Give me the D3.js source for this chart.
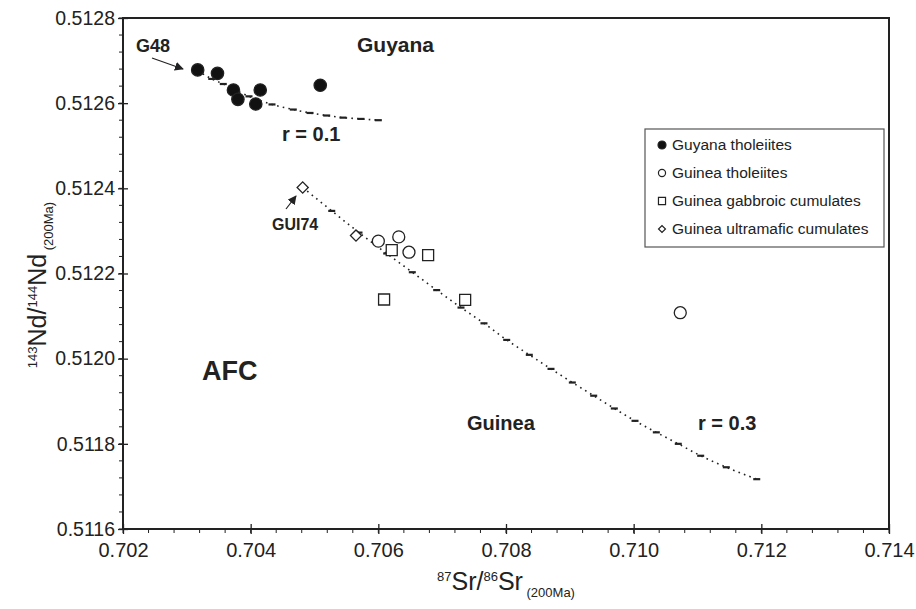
<!DOCTYPE html>
<html>
<head>
<meta charset="utf-8">
<script src="https://cdn.jsdelivr.net/npm/d3@7/dist/d3.min.js"></script>
<style>
  html, body { margin: 0; padding: 0; background: #fff; }
  svg { display: block; font-family: "Liberation Sans", Arial, sans-serif; }
</style>
</head>
<body>
<svg id="chart" width="916" height="609"></svg>
<script>
// Sample groups: 87Sr/86Sr and 143Nd/144Nd at 200 Ma
const guyanaSr = [0.70317, 0.70348, 0.70373, 0.70380, 0.70415, 0.70408, 0.70509];
const guyanaNd = [0.512678, 0.512670, 0.512631, 0.512609, 0.512631, 0.512598, 0.512642];

const guineaThSr = [0.70600, 0.70632, 0.70648, 0.71073];
const guineaThNd = [0.512276, 0.512286, 0.512250, 0.512108];

const gabbroSr = [0.70621, 0.70678, 0.70609, 0.70736];
const gabbroNd = [0.512255, 0.512243, 0.512139, 0.512138];

const ultramaficSr = [0.704815, 0.70565];
const ultramaficNd = [0.512402, 0.512289];

// AFC model steps, r = 0.1 (from G48)
const afcGuyanaSr = [0.703170, 0.703390, 0.703571, 0.703770, 0.703974, 0.704334, 0.704668, 0.704930, 0.705191, 0.705447, 0.705728, 0.706000];
const afcGuyanaNd = [0.512676, 0.512657, 0.512645, 0.512630, 0.512616, 0.512597, 0.512585, 0.512577, 0.512571, 0.512566, 0.512563, 0.512560];

// AFC model steps, r = 0.3 (from GUI74)
const afcGuineaSr = [0.704815, 0.705270, 0.705697, 0.706131, 0.706532, 0.706914, 0.707295, 0.707655, 0.708011, 0.708365, 0.708705, 0.709039, 0.709374, 0.709697, 0.710021, 0.710355, 0.710699, 0.711050, 0.711451, 0.711928];
const afcGuineaNd = [0.512402, 0.512347, 0.512296, 0.512247, 0.512203, 0.512161, 0.512120, 0.512083, 0.512044, 0.512009, 0.511976, 0.511944, 0.511913, 0.511883, 0.511854, 0.511827, 0.511800, 0.511772, 0.511745, 0.511717];

const xTicks = [0.702, 0.704, 0.706, 0.708, 0.710, 0.712, 0.714];
const yTicks = [0.5116, 0.5118, 0.5120, 0.5122, 0.5124, 0.5126, 0.5128];

const legendLabels = ["Guyana tholeiites", "Guinea tholeiites", "Guinea gabbroic cumulates", "Guinea ultramafic cumulates"];

const zip = (xs, ys) => xs.map((x, i) => [x, ys[i]]);

const svg = d3.select("#chart");
const plot = { left: 123, right: 889, top: 18, bottom: 529 };

const x = d3.scaleLinear().domain([0.702, 0.714]).range([plot.left, plot.right]);
const y = d3.scaleLinear().domain([0.5116, 0.5128]).range([plot.bottom, plot.top]);

// frame
svg.append("rect")
  .attr("x", plot.left).attr("y", plot.top)
  .attr("width", plot.right - plot.left).attr("height", plot.bottom - plot.top)
  .attr("fill", "none").attr("stroke", "#222").attr("stroke-width", 2);

// minor ticks
const xMinor = d3.range(0, 31).map(i => 0.702 + i * 0.0004);
svg.append("g").selectAll("line").data(xMinor).join("line")
  .attr("x1", d => x(d)).attr("x2", d => x(d))
  .attr("y1", plot.bottom).attr("y2", plot.bottom + 4)
  .attr("stroke", "#222").attr("stroke-width", 1);
const yMinor = d3.range(0, 31).map(i => 0.5116 + i * 0.00004);
svg.append("g").selectAll("line").data(yMinor).join("line")
  .attr("x1", plot.left - 4).attr("x2", plot.left)
  .attr("y1", d => y(d)).attr("y2", d => y(d))
  .attr("stroke", "#222").attr("stroke-width", 1);

// major axes
const xAxis = d3.axisBottom(x).tickValues(xTicks).tickFormat(d3.format(".3f")).tickSizeInner(5).tickSizeOuter(0).tickPadding(9);
const gx = svg.append("g").attr("transform", `translate(0,${plot.bottom})`).call(xAxis);
gx.select(".domain").remove();
gx.selectAll(".tick line").attr("y1", -5).attr("y2", 5).attr("stroke", "#222").attr("stroke-width", 1.3);
gx.selectAll(".tick text").attr("font-size", 20).attr("fill", "#222")
  .attr("font-family", "Liberation Sans, Arial, sans-serif");

const yAxis = d3.axisLeft(y).tickValues(yTicks).tickFormat(d3.format(".4f")).tickSizeInner(5).tickSizeOuter(0).tickPadding(3);
const gy = svg.append("g").attr("transform", `translate(${plot.left},0)`).call(yAxis);
gy.select(".domain").remove();
gy.selectAll(".tick line").attr("x1", -5).attr("x2", 5).attr("stroke", "#222").attr("stroke-width", 1.3);
gy.selectAll(".tick text").attr("font-size", 19.5).attr("fill", "#222")
  .attr("font-family", "Liberation Sans, Arial, sans-serif");

// axis titles
const xt = svg.append("text").attr("x", 506).attr("y", 590).attr("text-anchor", "middle").attr("fill", "#222");
xt.append("tspan").attr("font-size", 13).attr("dy", -9).text("87");
xt.append("tspan").attr("font-size", 25).attr("dy", 9).text("Sr/");
xt.append("tspan").attr("font-size", 13).attr("dy", -9).text("86");
xt.append("tspan").attr("font-size", 25).attr("dy", 9).text("Sr");
xt.append("tspan").attr("font-size", 13).attr("dy", 7).text(" (200Ma)");

const yt = svg.append("text").attr("transform", "translate(46,285) rotate(-90)").attr("text-anchor", "middle").attr("fill", "#222");
yt.append("tspan").attr("font-size", 13).attr("dy", -9).text("143");
yt.append("tspan").attr("font-size", 25).attr("dy", 9).text("Nd/");
yt.append("tspan").attr("font-size", 13).attr("dy", -9).text("144");
yt.append("tspan").attr("font-size", 25).attr("dy", 9).text("Nd");
yt.append("tspan").attr("font-size", 13).attr("dy", 7).text(" (200Ma)");

// AFC curves: dotted path with a short bar at every model step
function afcCurve(xs, ys) {
  const pts = zip(xs, ys);
  const line = d3.line().x(d => x(d[0])).y(d => y(d[1])).curve(d3.curveMonotoneX);
  svg.append("path").attr("d", line(pts)).attr("fill", "none")
    .attr("stroke", "#222").attr("stroke-width", 1.6).attr("stroke-dasharray", "1.6,4.2");
  svg.append("g").selectAll("line").data(pts.slice(1)).join("line")
    .attr("x1", d => x(d[0]) - 3.5).attr("x2", d => x(d[0]) + 3.5)
    .attr("y1", d => y(d[1])).attr("y2", d => y(d[1]))
    .attr("stroke", "#222").attr("stroke-width", 2.2);
}
afcCurve(afcGuyanaSr, afcGuyanaNd);
afcCurve(afcGuineaSr, afcGuineaNd);

// data symbols
const sym = (type, size) => d3.symbol().type(type).size(size)();
const diamondPath = (s) => sym(d3.symbolSquare, s);

function drawPoints(xs, ys, path, fill, rot) {
  svg.append("g").selectAll("path").data(zip(xs, ys)).join("path")
    .attr("d", path)
    .attr("transform", d => `translate(${x(d[0])},${y(d[1])})` + (rot ? " rotate(45)" : ""))
    .attr("fill", fill).attr("stroke", "#222").attr("stroke-width", 1.3);
}
drawPoints(guineaThSr, guineaThNd, sym(d3.symbolCircle, 113), "#fff");
drawPoints(gabbroSr, gabbroNd, sym(d3.symbolSquare, 121), "#fff");
drawPoints(ultramaficSr, ultramaficNd, diamondPath(62), "#fff", true);
drawPoints(guyanaSr, guyanaNd, sym(d3.symbolCircle, 120), "#111");

// annotations
const bold = (tx, ty, txt, size) => svg.append("text").attr("x", tx).attr("y", ty)
  .attr("font-size", size).attr("font-weight", "bold").attr("fill", "#222").text(txt);
bold(136, 52, "G48", 18);
bold(357, 52, "Guyana", 21);
bold(282, 141, "r = 0.1", 20);
bold(272, 230, "GUI74", 16);
bold(202, 380, "AFC", 27);
bold(467, 430, "Guinea", 20);
bold(698, 430, "r = 0.3", 20);

// arrows
svg.append("defs").append("marker")
  .attr("id", "arrow").attr("viewBox", "0 0 10 10").attr("refX", 9).attr("refY", 5)
  .attr("markerWidth", 9).attr("markerHeight", 9).attr("markerUnits", "userSpaceOnUse").attr("orient", "auto")
  .append("path").attr("d", "M0,0 L10,5 L0,10 Z").attr("fill", "#222");
svg.append("line").attr("x1", 152).attr("y1", 58).attr("x2", 183).attr("y2", 69)
  .attr("stroke", "#222").attr("stroke-width", 1.2).attr("marker-end", "url(#arrow)");
svg.append("line").attr("x1", 286).attr("y1", 209).attr("x2", 296).attr("y2", 196)
  .attr("stroke", "#222").attr("stroke-width", 1.2).attr("marker-end", "url(#arrow)");

// legend
const lg = svg.append("g");
lg.append("rect").attr("x", 645).attr("y", 129).attr("width", 239).attr("height", 118)
  .attr("fill", "#fff").attr("stroke", "#555").attr("stroke-width", 1.2);
const legendSyms = [
  { d: sym(d3.symbolCircle, 50), fill: "#111", rot: false },
  { d: sym(d3.symbolCircle, 40), fill: "#fff", rot: false },
  { d: sym(d3.symbolSquare, 50), fill: "#fff", rot: false },
  { d: diamondPath(24), fill: "#fff", rot: true }
];
const rowY = [150, 178, 206, 234];
legendLabels.forEach((lab, i) => {
  lg.append("path").attr("d", legendSyms[i].d)
    .attr("transform", `translate(662,${rowY[i] - 5})` + (legendSyms[i].rot ? " rotate(45)" : ""))
    .attr("fill", legendSyms[i].fill).attr("stroke", "#222").attr("stroke-width", 1.2);
  lg.append("text").attr("x", 672).attr("y", rowY[i]).attr("font-size", 15.5).attr("fill", "#222").text(lab);
});
</script>
</body>
</html>
